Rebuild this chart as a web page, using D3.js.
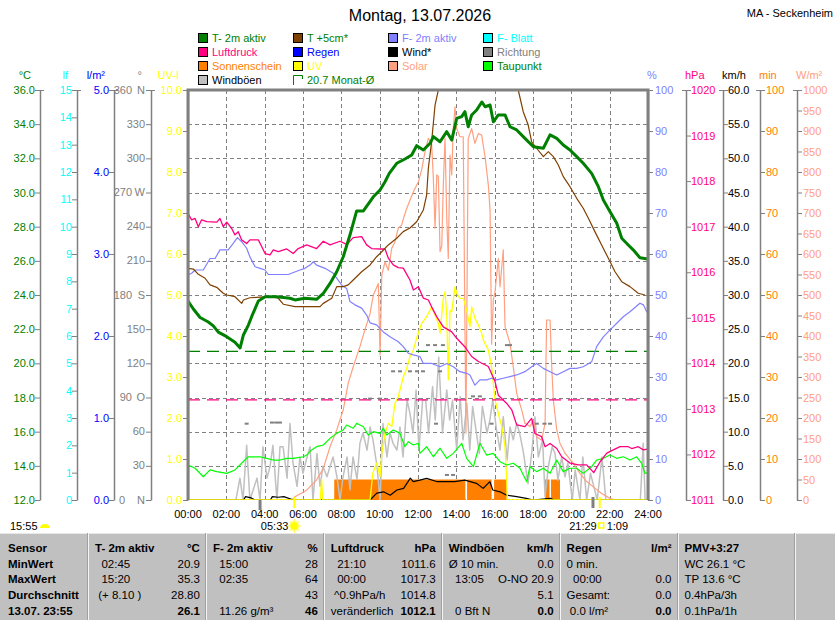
<!DOCTYPE html>
<html>
<head>
<meta charset="utf-8">
<script src="https://cdn.jsdelivr.net/npm/d3@7"></script>
<style>
    body { margin: 0; background: #fff; }
    svg { display: block; font-family: "Liberation Sans", Arial, sans-serif; }
    text { white-space: pre; }
</style>
</head>
<body>
<svg id="chart" width="835" height="620"></svg>
<script>
    // ---- data: [hour, value] ----
    const tempAir = [[0,23.65],[0.28,23.18],[0.63,22.68],[1.06,22.42],[1.32,22.19],[1.58,21.83],[2.02,21.56],[2.45,21.23],[2.72,20.9],[2.89,21.66],[3.15,22.24],[3.32,22.73],[3.67,23.65],[4.02,23.9],[4.63,23.9],[5.32,23.81],[5.58,23.71],[6.1,23.81],[6.71,23.75],[7.06,24.1],[7.41,24.68],[7.76,25.36],[8.1,26.24],[8.45,27.51],[8.8,28.92],[9.15,28.92],[9.67,29.75],[10.02,30.15],[10.28,30.63],[10.5,31.12],[10.89,31.71],[11.32,31.96],[11.67,32.2],[11.93,32.74],[12.28,32.49],[12.63,32.88],[12.8,33.27],[13.15,32.97],[13.5,33.56],[13.76,33.07],[14.02,34.34],[14.28,34.44],[14.45,34.73],[14.62,33.85],[14.8,34.54],[15.06,34.83],[15.33,35.3],[15.5,35.02],[15.76,35.12],[15.93,34.14],[16.19,34.54],[16.54,34.54],[16.8,33.85],[17.15,33.66],[17.58,33.17],[18.02,32.68],[18.54,32.59],[18.89,33.37],[19.24,33.17],[19.58,32.78],[19.93,32.49],[20.28,32.1],[20.62,31.71],[21.06,31.12],[21.41,30.34],[21.67,29.56],[22.02,28.88],[22.37,28.2],[22.63,27.32],[22.97,26.93],[23.24,26.63],[23.58,26.18],[24,26.1]];

    const tempGround = [[0,25.56],[0.28,25.52],[0.54,25.21],[0.89,24.98],[1.15,24.59],[1.5,24.45],[1.84,24.1],[2.02,24.0],[2.45,23.9],[2.8,23.51],[2.89,23.71],[3.23,23.84],[3.76,23.87],[4.37,23.9],[4.71,23.81],[4.97,23.46],[5.58,23.32],[6.19,23.32],[6.89,23.32],[7.06,23.51],[7.5,23.81],[7.76,24.49],[8.1,24.49],[8.36,24.59],[8.62,24.88],[9.06,25.36],[9.5,25.76],[9.84,26.24],[10.11,26.53],[10.45,26.93],[10.89,27.32],[11.23,27.71],[11.58,27.92],[11.93,28.29],[12.28,28.98],[12.45,29.85],[12.54,31.42],[12.71,32.97],[12.89,35.12],[13.06,36.0],[13.5,38.2],[14.5,40.1],[15.5,41.0],[16.5,40.0],[17.0,37.4],[17.23,36.0],[17.49,34.73],[17.75,33.95],[17.93,32.97],[18.19,32.59],[18.54,32.1],[18.8,32.39],[19.06,32.1],[19.32,31.61],[19.58,30.93],[19.93,30.34],[20.28,29.66],[20.62,29.08],[20.89,28.49],[21.23,27.71],[21.58,26.93],[21.93,26.15],[22.28,25.36],[22.63,24.78],[23.06,24.49],[23.49,24.1],[23.84,24.0]];

    const humidity = [[0,54.9],[0.19,55.3],[0.37,56.1],[0.8,56.1],[1.15,58.9],[1.41,58.9],[1.67,61],[2.1,61],[2.36,62.6],[2.58,64],[2.8,63],[3.06,61.4],[3.23,59.3],[3.5,56.9],[3.76,56.5],[4.02,56.1],[4.19,55],[5.23,55],[5.84,56.1],[6.1,56.5],[6.37,57.3],[6.54,58.1],[6.71,57.3],[7.15,56.5],[7.58,55.3],[7.76,54.1],[8.02,52.4],[8.28,51.6],[8.45,48.4],[8.71,47.6],[9.06,46.8],[9.32,45.1],[9.5,43.2],[9.84,42.7],[10.19,41.0],[10.54,39.8],[10.97,38.6],[11.23,37.4],[11.49,35.8],[11.76,35.4],[12.1,35],[12.28,33.3],[12.71,33.3],[13.15,32.5],[13.5,33.3],[13.84,32.5],[14.19,31.3],[14.54,30.9],[14.71,30.5],[14.97,28.0],[15.23,29.3],[15.58,29.3],[15.84,29.7],[16.1,29.3],[16.45,29.7],[16.8,30.1],[17.15,30.5],[17.58,31.3],[17.93,32.5],[18.19,33.3],[18.54,32.1],[18.89,31.3],[19.24,30.5],[19.58,31.3],[19.93,32.1],[20.28,32.1],[20.62,32.5],[21.06,33.7],[21.32,37.4],[21.67,39.8],[22.02,41.5],[22.37,43.1],[22.71,44.7],[23.06,45.9],[23.58,48],[23.76,47.6],[23.93,45.9],[24,46]];

    const pressure = [[0,1017.29],[0.19,1017.15],[0.37,1017.18],[0.54,1017.0],[0.71,1017.15],[0.98,1017.11],[1.5,1017.1],[1.67,1017.18],[1.84,1017.0],[2.02,1017.1],[2.28,1016.96],[2.45,1016.82],[2.62,1016.89],[2.8,1016.71],[3.06,1016.63],[3.23,1016.71],[3.67,1016.71],[3.85,1016.56],[4.02,1016.41],[4.28,1016.38],[4.45,1016.49],[4.71,1016.45],[5.15,1016.51],[5.49,1016.41],[5.75,1016.52],[6.19,1016.6],[6.71,1016.52],[7.06,1016.68],[7.41,1016.6],[7.93,1016.68],[8.28,1016.61],[8.62,1016.76],[9.06,1016.78],[9.32,1016.6],[9.58,1016.52],[10.02,1016.51],[10.28,1016.51],[10.45,1016.31],[10.71,1016.16],[10.97,1016.1],[11.23,1016.09],[11.58,1015.83],[11.76,1015.61],[12.02,1015.68],[12.28,1015.43],[12.54,1015.39],[12.71,1015.24],[12.98,1015.02],[13.32,1014.8],[13.76,1014.69],[14.02,1014.55],[14.45,1014.36],[14.8,1014.15],[15.15,1014.04],[15.67,1013.93],[16.02,1013.6],[16.19,1013.3],[16.63,1013.12],[16.89,1012.98],[17.15,1012.65],[17.58,1012.61],[17.93,1012.79],[18.1,1012.46],[18.45,1012.39],[18.63,1012.17],[18.89,1012.24],[19.24,1012.13],[19.5,1011.95],[19.93,1011.81],[20.36,1011.77],[20.8,1011.77],[21.17,1011.6],[21.5,1011.84],[21.85,1012.03],[22.19,1012.1],[22.54,1012.17],[22.97,1012.17],[23.15,1012.13],[23.49,1012.17],[23.76,1012.1],[24,1012.12]];

    const dewPoint = [[0,14.05],[0.37,13.86],[0.8,13.36],[1.15,13.76],[1.5,13.66],[2.02,13.56],[2.45,13.76],[2.97,14.34],[3.15,14.53],[3.76,14.53],[4.1,14.44],[4.45,14.34],[4.8,14.34],[5.15,14.44],[5.49,14.44],[6.02,14.53],[6.19,14.63],[6.45,14.93],[6.71,15.12],[7.06,15.22],[7.41,15.61],[7.76,15.9],[8.1,16.1],[8.28,16.39],[8.62,16.2],[8.8,16.49],[9.15,16.29],[9.41,15.8],[9.67,16.0],[10.02,15.9],[10.19,16.2],[10.37,15.8],[10.71,16.1],[11.06,15.9],[11.32,15.12],[11.49,15.41],[11.76,15.22],[12.02,15.32],[12.1,14.73],[12.45,15.12],[12.8,14.53],[13.15,15.03],[13.5,14.44],[13.84,14.73],[14.28,15.32],[14.54,14.44],[14.89,13.95],[15.23,15.32],[15.58,14.63],[15.93,14.73],[16.28,14.24],[16.63,14.05],[16.97,14.15],[17.32,13.86],[17.67,13.07],[17.84,13.95],[18.19,13.66],[18.54,13.86],[18.89,13.56],[19.24,14.34],[19.58,13.66],[19.93,13.86],[20.28,13.86],[20.62,13.56],[21.06,13.95],[21.32,14.34],[21.67,14.44],[22.02,14.63],[22.37,14.44],[22.71,14.53],[23.06,14.34],[23.41,14.53],[23.67,14.15],[23.84,13.56],[24,13.6]];

    const solar = [[0,0],[5.4,0],[5.58,8],[6.19,24],[6.71,49],[7.06,77],[7.41,130],[7.76,171],[8.1,220],[8.36,285],[8.62,325],[8.97,374],[9.23,415],[9.5,455],[9.67,500],[9.93,528],[10.02,354],[10.11,549],[10.28,581],[10.45,560],[10.63,614],[10.8,630],[10.97,663],[11.15,671],[11.27,691],[11.41,711],[11.76,752],[12.02,776],[12.19,805],[12.37,850],[12.54,882],[12.71,870],[12.8,785],[12.89,663],[12.98,793],[13.06,790],[13.15,606],[13.24,620],[13.32,768],[13.41,882],[13.5,687],[13.58,589],[13.67,841],[13.76,793],[13.84,906],[13.93,959],[14.02,906],[14.19,886],[14.36,886],[14.5,163],[14.62,882],[14.8,906],[14.97,870],[15.15,894],[15.32,890],[15.5,837],[15.67,768],[15.76,707],[15.84,380],[15.93,488],[16.02,508],[16.19,589],[16.28,520],[16.45,610],[16.54,423],[16.8,382],[16.97,325],[17.15,260],[17.41,220],[17.58,187],[17.84,179],[18.02,195],[18.19,154],[18.45,146],[18.63,187],[18.71,439],[18.89,439],[18.97,333],[19.06,244],[19.24,171],[19.41,138],[19.67,114],[20.1,90],[20.45,65],[20.8,45],[21.23,29],[21.58,16],[22.02,4],[22.28,0],[24,0]];

    const uvIndex = [[0,0],[6.9,0],[6.97,0.5],[7.03,0],[9.5,0],[9.64,0.65],[9.85,0.9],[10.02,0.57],[10.11,1.14],[10.28,1.63],[10.45,1.87],[10.63,1.79],[10.8,2.36],[10.97,2.52],[11.23,3.0],[11.41,3.21],[11.58,3.5],[11.76,3.66],[11.93,3.95],[12.19,4.31],[12.45,4.47],[12.71,4.71],[12.89,4.51],[13.06,4.31],[13.15,4.07],[13.32,4.92],[13.41,5.08],[13.5,4.51],[13.58,2.93],[13.67,4.63],[13.76,4.59],[13.93,5.2],[14.02,5.04],[14.19,4.92],[14.36,4.92],[14.54,4.63],[14.71,4.23],[14.8,4.71],[14.97,4.43],[15.15,4.27],[15.32,4.07],[15.41,3.9],[15.67,3.66],[15.84,3.25],[16.02,2.44],[16.19,2.11],[16.37,1.79],[16.54,1.3],[16.63,0.49],[16.66,0],[24,0]];

    const gusts = [[0,0],[2.5,0],[2.71,3.2],[2.87,0],[3.06,8.0],[3.23,0],[3.6,3.2],[3.76,0],[3.91,7.8],[4.12,3.2],[4.28,4.9],[4.43,8.0],[4.64,0],[4.8,7.8],[4.96,7.8],[5.17,3.2],[5.32,11.2],[5.48,5.4],[5.69,2.0],[5.84,6.3],[6.0,3.9],[6.21,6.3],[6.37,7.8],[6.52,0],[6.73,6.8],[6.89,2.0],[7.04,4.9],[7.25,3.4],[7.41,4.9],[7.57,6.3],[7.77,3.4],[7.93,0],[8.09,3.4],[8.3,6.3],[8.45,1.5],[8.61,6.3],[8.82,3.0],[8.97,8.3],[9.13,9.8],[9.34,7.3],[9.5,10.7],[9.65,8.8],[9.86,5],[10.02,0],[10.17,11.2],[10.38,6.3],[10.54,9.8],[10.7,8.3],[10.9,7.3],[11.06,10.7],[11.22,6.3],[11.43,14.6],[11.58,12.7],[11.74,9.8],[11.9,16.1],[12.05,7.3],[12.24,14.6],[12.4,14.6],[12.55,9.8],[12.76,16.6],[12.9,11.7],[13.08,20.9],[13.28,9.8],[13.5,16.1],[13.65,11.7],[13.8,14.6],[14.02,7.3],[14.2,15.1],[14.35,8.8],[14.55,14.1],[14.7,7.3],[14.85,13.7],[15.05,9.8],[15.2,6.8],[15.36,13.7],[15.6,9.8],[15.75,11.7],[15.9,14.6],[16.1,10.2],[16.28,7.3],[16.45,12.2],[16.65,5.85],[16.8,10.7],[16.97,8.8],[17.15,11.2],[17.3,9.8],[17.48,7.3],[17.74,2.4],[17.95,7.3],[18.1,12.2],[18.28,6.3],[18.5,8.8],[18.63,0.5],[18.8,4.9],[19.0,7.8],[19.15,6.8],[19.3,2.9],[19.5,6.3],[19.67,3.4],[19.82,5.4],[20.05,0],[20.2,4.4],[20.45,0],[20.6,6.3],[20.8,0],[21.0,3.9],[21.35,0],[21.6,6.3],[21.8,0],[23.6,0],[23.75,8.3],[23.85,0],[24,0]];

    const windAvg = [[0,0],[2.9,0],[3.0,0.5],[3.3,0.3],[3.5,0],[4.3,0],[4.4,0.5],[4.7,0.4],[5.0,0.5],[5.5,0],[9.5,0],[9.85,1.0],[10.2,1.2],[10.55,0.7],[10.9,1.46],[11.25,1.7],[11.6,3.2],[11.75,2.7],[12.1,2.9],[12.45,3.17],[12.97,2.7],[13.9,2.68],[14.45,2.9],[15.05,2.44],[15.4,1.7],[15.75,2.68],[15.9,1.46],[16.28,1.2],[16.6,0.73],[17.15,0.49],[17.65,0.24],[18.0,0],[18.9,0.24],[19.1,0],[24,0]];

    const windDir = [[3.06,67],[4.38,68],[4.6,68],[4.8,68],[9.5,89],[10.02,89],[10.7,113],[11.06,113],[11.58,113],[11.95,113],[12.26,113],[12.52,136],[12.89,136],[13.3,136],[13.15,113],[12.94,67],[13.51,22],[13.83,22],[14.87,91],[15.23,91],[15.84,67],[16.64,136],[16.8,136],[18.2,67],[18.6,67],[18.89,67]];

    // sunshine: minutes of sun per 5-minute step, over these periods
    const sunPeriods = [[7.63,14.47],[14.56,15.84],[15.97,16.63],[18.63,18.86],[18.94,19.41]];
    const sunMinutes = 5;

    const monthAvgTemp = 20.7;
    const monthAvgPressure = 1013.2;

    const dawn = 3.76, sunrise = 5.55, duskMark = 21.13, sunset = 21.48;

    const hourTicks = d3.range(0, 25, 2);
    const tempTicks = d3.range(12, 37, 2);
    const leafTicks = d3.range(0, 16, 1);
    const rainTicks = d3.range(0, 6, 1);
    const dirTicks = d3.range(0, 361, 30);
    const dirLetters = {0: "N", 90: "O", 180: "S", 270: "W", 360: "N"};
    const uvTicks = d3.range(0, 11, 1);
    const humTicks = d3.range(0, 101, 10);
    const presTicks = d3.range(1011, 1021, 1);
    const kmhTicks = d3.range(0, 61, 5);
    const minTicks = d3.range(0, 101, 10);
    const solTicks = d3.range(0, 1001, 50);

    const legendItems = [
        ["T- 2m aktiv", "#008000", "#008000"], ["Luftdruck", "#FF0080", "#FF0080"], ["Sonnenschein", "#FF8000", "#FF8000"], ["Windböen", "#C0C0C0", "#000000"],
        ["T +5cm*", "#804000", "#008000"], ["Regen", "#0000FF", "#0000FF"], ["UV", "#FFFF00", "#FFFF00"], ["20.7 Monat-Ø", null, "#008000"],
        ["F- 2m aktiv", "#8080FF", "#8080FF"], ["Wind*", "#000000", "#000000"], ["Solar", "#FFA080", "#FFA080"], null,
        ["F- Blatt", "#00FFFF", "#00FFFF"], ["Richtung", "#808080", "#808080"], ["Taupunkt", "#00FF00", "#008000"], null
    ];

    const rowLabels = ["Sensor", "MinWert", "MaxWert", "Durchschnitt", "13.07. 23:55"];
    const tableCols = [
        {head: "T- 2m aktiv", unit: "°C", left: ["  02:45", "  15:20", " (+ 8.10 )", ""], right: ["20.9", "35.3", "28.80", "26.1"]},
        {head: "F- 2m aktiv", unit: "%", left: ["  15:00", "  02:35", "", "  11.26 g/m³"], right: ["28", "64", "43", "46"]},
        {head: "Luftdruck", unit: "hPa", left: ["  21:10", "  00:00", " ^0.9hPa/h", "veränderlich"], right: ["1011.6", "1017.3", "1014.8", "1012.1"]},
        {head: "Windböen", unit: "km/h", left: ["Ø 10 min.", "  13:05", "", "  0 Bft N"], right: ["0.0", "O-NO 20.9", "5.1", "0.0"]},
        {head: "Regen", unit: "l/m²", left: ["0 min.", "  00:00", "Gesamt:", " 0.0 l/m²"], right: ["", "0.0", "0.0", "0.0"]},
        {head: "PMV+3:27", unit: "", left: ["WC 26.1 °C", "TP 13.6 °C", "0.4hPa/3h", "0.1hPa/1h"], right: ["", "", "", ""]}
    ];

    // ---- layout ----
    const FONT = '"Liberation Sans", Arial, sans-serif';
    const plot = {left: 188, right: 648, top: 90, bottom: 500};
    const svg = d3.select("#chart");

    let x = d3.scaleLinear().domain([0, 24]).range([plot.left, plot.right]);
    const yr = [plot.bottom, plot.top];
    let yTemp = d3.scaleLinear().domain([12, 36]).range(yr),
        yLeaf = d3.scaleLinear().domain([0, 15]).range(yr),
        yRain = d3.scaleLinear().domain([0, 5]).range(yr),
        yDir = d3.scaleLinear().domain([0, 360]).range(yr),
        yUV = d3.scaleLinear().domain([0, 10]).range(yr),
        yHum = d3.scaleLinear().domain([0, 100]).range(yr),
        yPres = d3.scaleLinear().domain([1011, 1020]).range(yr),
        yKmh = d3.scaleLinear().domain([0, 60]).range(yr),
        yMin = d3.scaleLinear().domain([0, 100]).range(yr),
        ySol = d3.scaleLinear().domain([0, 1000]).range(yr);

    // title
    svg.append("text").attr("x", 420).attr("y", 21).attr("text-anchor", "middle")
        .style("font-size", "16px").text("Montag, 13.07.2026");
    svg.append("text").attr("x", 833).attr("y", 17).attr("text-anchor", "end")
        .style("font-size", "11px").text("MA - Seckenheim");

    // legend
    legendItems.forEach((it, i) => {
        if (!it) return;
        let col = Math.floor(i / 4), row = i % 4;
        let lx = 198 + col * 95, ly = 38 + row * 14;
        if (it[1]) {
            svg.append("rect").attr("x", lx + 0.5).attr("y", ly - 4.5).attr("width", 9).attr("height", 9)
                .attr("fill", it[1]).attr("stroke", "#000");
        } else {
            svg.append("path").attr("d", `M${lx + 0.5},${ly + 5}V${ly - 4.5}H${lx + 9.5}V${ly - 1}`)
                .attr("fill", "none").attr("stroke", it[2]);
        }
        svg.append("text").attr("x", lx + 14).attr("y", ly + 4)
            .style("font-size", "11px").attr("fill", it[2]).text(it[0]);
    });

    // grid
    let grid = svg.append("g").attr("stroke", "#808080").attr("stroke-dasharray", "4,3");
    tempTicks.slice(1, -1).forEach(t => {
        grid.append("line").attr("x1", plot.left).attr("x2", plot.right)
            .attr("y1", Math.round(yTemp(t)) + 0.5).attr("y2", Math.round(yTemp(t)) + 0.5);
    });
    hourTicks.slice(1, -1).forEach(h => {
        grid.append("line").attr("y1", plot.top).attr("y2", plot.bottom)
            .attr("x1", Math.round(x(h)) + 0.5).attr("x2", Math.round(x(h)) + 0.5);
    });

    // axes
    function sideAxis(scale, pos, ticks, fmt, color, unit, left, pad) {
        let ax = (left ? d3.axisLeft(scale) : d3.axisRight(scale))
            .tickValues(ticks).tickFormat(fmt).tickSize(5).tickSizeOuter(0).tickPadding(pad);
        let g = svg.append("g").attr("transform", `translate(${pos},0)`).call(ax)
            .attr("font-family", FONT).attr("font-size", 11);
        g.select(".domain").attr("stroke", "#808080").attr("stroke-width", 1.5);
        g.selectAll(".tick line").attr("stroke", "#808080");
        g.selectAll(".tick text").attr("fill", color);
        g.append("line").attr("x1", left ? -5 : -4).attr("x2", left ? 4 : 5)
            .attr("y1", plot.top + 0.5).attr("y2", plot.top + 0.5).attr("stroke", "#808080");
        svg.append("text").attr("x", left ? pos - 9 : pos - 1).attr("y", 79)
            .attr("text-anchor", left ? "end" : "start").style("font-size", "11px")
            .attr("fill", color).text(unit);
        return g;
    }

    sideAxis(yTemp, 40, tempTicks, d3.format(".1f"), "#008000", "°C", true, 0);
    sideAxis(yLeaf, 77, leafTicks, d3.format("d"), "#00FFFF", "lf", true, 0);
    sideAxis(yRain, 114, rainTicks, d3.format(".1f"), "#0000FF", "l/m²", true, 0);
    let dirAxis = sideAxis(yDir, 151, dirTicks, d => "", "#808080", "°", true, 1);
    dirTicks.forEach(d => {
        let ty = yDir(d);
        let letter = dirLetters[d];
        svg.append("text").attr("x", letter ? (d === 0 ? 125 : 132) : 145).attr("y", ty).attr("dy", "0.32em")
            .attr("text-anchor", "end").style("font-size", "11px").attr("fill", "#808080").text(d);
        if (letter) {
            svg.append("text").attr("x", 145).attr("y", ty).attr("dy", "0.32em")
                .attr("text-anchor", "end").style("font-size", "11px").attr("fill", "#808080").text(letter);
        }
    });
    sideAxis(yUV, 188, uvTicks, d3.format(".1f"), "#FFFF00", "UV-I", true, 1);

    sideAxis(yHum, 648, humTicks, d3.format("d"), "#8080FF", "%", false, 2);
    sideAxis(yPres, 686, presTicks, d3.format("d"), "#FF0080", "hPa", false, 0);
    sideAxis(yKmh, 723, kmhTicks, d3.format(".1f"), "#000000", "km/h", false, 0);
    sideAxis(yMin, 760, minTicks, d3.format("d"), "#FF8000", "min", false, 1);
    sideAxis(ySol, 797, solTicks, d3.format("d"), "#FFA080", "W/m²", false, 1);

    // time labels
    hourTicks.forEach(h => {
        svg.append("text").attr("x", x(h)).attr("y", 518).attr("text-anchor", "middle")
            .style("font-size", "11px").text(d3.format("02d")(h) + ":00");
    });

    // plot content
    svg.append("clipPath").attr("id", "clip").append("rect")
        .attr("x", plot.left).attr("y", plot.top).attr("width", plot.right - plot.left).attr("height", plot.bottom - plot.top);
    let plotG = svg.append("g").attr("clip-path", "url(#clip)");

    // sunshine
    sunPeriods.forEach(p => {
        plotG.append("rect").attr("x", x(p[0])).attr("width", x(p[1]) - x(p[0]))
            .attr("y", yMin(sunMinutes)).attr("height", yMin(0) - yMin(sunMinutes)).attr("fill", "#FF8000");
    });
    plotG.append("line").attr("x1", plot.left).attr("x2", plot.right).attr("y1", yMin(0) - 0.5).attr("y2", yMin(0) - 0.5)
        .attr("stroke", "#FF8000").attr("stroke-dasharray", "2,2");

    function series(data, yScale, color, width) {
        plotG.append("path").datum(data)
            .attr("fill", "none").attr("stroke", color).attr("stroke-width", width)
            .attr("stroke-linejoin", "round")
            .attr("d", d3.line().x(d => x(d[0])).y(d => yScale(d[1])));
    }

    series(gusts, yKmh, "#C0C0C0", 1.5);
    series(solar, ySol, "#FFA080", 1.2);
    series(windAvg, yKmh, "#000000", 1.2);
    series(uvIndex, yUV, "#FFFF00", 1.3);
    series(dewPoint, yTemp, "#00FF00", 1.2);

    // monthly averages
    [[monthAvgTemp, yTemp, "#008000"], [monthAvgPressure, yPres, "#FF0080"]].forEach(m => {
        plotG.append("line").attr("x1", plot.left).attr("x2", plot.right)
            .attr("y1", m[1](m[0])).attr("y2", m[1](m[0]))
            .attr("stroke", m[2]).attr("stroke-width", 1.2).attr("stroke-dasharray", "12,7");
    });

    series(humidity, yHum, "#8080FF", 1.2);
    series(pressure, yPres, "#FF0080", 1.3);
    series(tempGround, yTemp, "#804000", 1.2);
    series(tempAir, yTemp, "#008000", 3);

    plotG.selectAll(".dir").data(windDir).join("rect")
        .attr("x", d => x(d[0]) - 2).attr("y", d => yDir(d[1]) - 1)
        .attr("width", 4).attr("height", 2).attr("fill", "#808080");

    // frame
    svg.append("path").attr("d", `M${plot.left},${plot.bottom}V${plot.top}H${plot.right}V${plot.bottom}`)
        .attr("fill", "none").attr("stroke", "#808080").attr("stroke-width", 3);

    // sun / moon marks under the axis
    svg.append("line").attr("x1", x(dawn)).attr("x2", x(dawn)).attr("y1", 500).attr("y2", 510)
        .attr("stroke", "#808080").attr("stroke-width", 3);
    svg.append("line").attr("x1", x(duskMark)).attr("x2", x(duskMark)).attr("y1", 497).attr("y2", 508)
        .attr("stroke", "#808080").attr("stroke-width", 3);
    [sunrise, sunset].forEach(s => {
        svg.append("line").attr("x1", x(s)).attr("x2", x(s)).attr("y1", 497).attr("y2", 508)
            .attr("stroke", "#FFFF00").attr("stroke-width", 2);
    });
    function sunIcon(cx, cy) {
        let g = svg.append("g").attr("transform", `translate(${cx},${cy})`);
        g.append("circle").attr("r", 6).attr("fill", "#FFFFC0");
        d3.range(8).forEach(k => {
            let a = k * Math.PI / 4;
            g.append("line").attr("x1", Math.cos(a) * 4).attr("y1", Math.sin(a) * 4)
                .attr("x2", Math.cos(a) * 7).attr("y2", Math.sin(a) * 7).attr("stroke", "#FFF060");
        });
        g.append("circle").attr("r", 4).attr("fill", "#FFFF00");
    }
    svg.append("text").attr("x", x(sunrise) - 6).attr("y", 530).attr("text-anchor", "end")
        .style("font-size", "11px").text("05:33");
    sunIcon(x(sunrise), 526);
    svg.append("text").attr("x", x(sunset) - 3).attr("y", 530).attr("text-anchor", "end")
        .style("font-size", "11px").text("21:29");
    svg.append("rect").attr("x", x(sunset) - 1).attr("y", 523).attr("width", 5).attr("height", 5)
        .attr("fill", "none").attr("stroke", "#FFFF00").attr("stroke-width", 1.5);
    svg.append("text").attr("x", x(sunset) + 7).attr("y", 530)
        .style("font-size", "11px").text("1:09");
    svg.append("text").attr("x", 10).attr("y", 530).style("font-size", "11px").text("15:55");
    svg.append("path").attr("d", "M40,528 A5,4 0 0 1 50,528 Z").attr("fill", "#FFFF00");

    // ---- table ----
    const tTop = 533, colW = 117.9, firstW = 88;
    svg.append("rect").attr("x", 0).attr("y", tTop).attr("width", 835).attr("height", 620 - tTop).attr("fill", "#C0C0C0");
    svg.append("line").attr("x1", 0).attr("x2", 835).attr("y1", tTop + 0.5).attr("y2", tTop + 0.5).attr("stroke", "#E8E8E8");
    d3.range(7).forEach(i => {
        let sx = Math.round(firstW + i * colW);
        svg.append("line").attr("x1", sx - 0.5).attr("x2", sx - 0.5).attr("y1", tTop).attr("y2", 620).attr("stroke", "#A0A0A0");
        svg.append("line").attr("x1", sx + 0.5).attr("x2", sx + 0.5).attr("y1", tTop).attr("y2", 620).attr("stroke", "#F4F4F4");
    });
    const rowY = r => 552 + r * 15.7;
    let tbl = svg.append("g").style("font-size", "11.5px");
    rowLabels.forEach((l, r) => {
        tbl.append("text").attr("x", 8).attr("y", rowY(r)).attr("font-weight", "bold").text(l);
    });
    tableCols.forEach((c, i) => {
        let cl = firstW + i * colW, cr = cl + colW;
        tbl.append("text").attr("x", cl + 7).attr("y", rowY(0)).attr("font-weight", "bold").text(c.head);
        tbl.append("text").attr("x", cr - 6).attr("y", rowY(0)).attr("text-anchor", "end")
            .attr("font-weight", "bold").text(c.unit);
        c.left.forEach((v, r) => {
            tbl.append("text").attr("x", cl + 7).attr("y", rowY(r + 1)).text(v);
        });
        c.right.forEach((v, r) => {
            tbl.append("text").attr("x", cr - 6).attr("y", rowY(r + 1)).attr("text-anchor", "end")
                .attr("font-weight", r === 3 ? "bold" : null).text(v);
        });
    });
</script>
</body>
</html>
